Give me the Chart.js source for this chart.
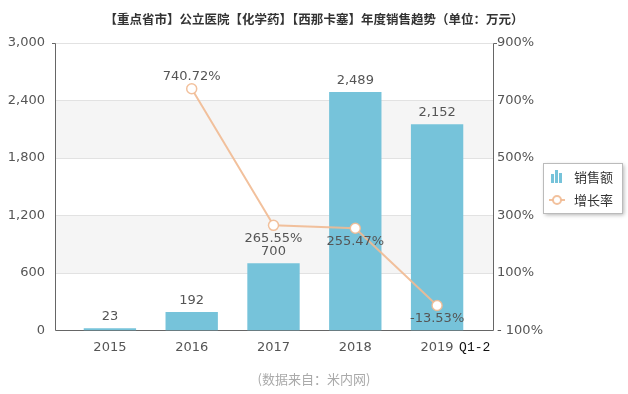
<!DOCTYPE html>
<html>
<head>
<meta charset="utf-8">
<script src="https://cdn.jsdelivr.net/npm/chart.js@4.4.1/dist/chart.umd.min.js"></script>
<style>
html, body { margin: 0; padding: 0; background: #fff; }
#wrap { width: 628px; height: 394px; }
</style>
</head>
<body>
<div id="wrap"><canvas id="salesChart"></canvas></div>
<script>
const categories = ['2015', '2016', '2017', '2018', '2019 Q1-2'];
const salesValues = [23, 192, 700, 2489, 2152];
const growthRates = [null, 740.72, 265.55, 255.47, -13.53];
const salesTicks = [0, 600, 1200, 1800, 2400, 3000];
const growthTicks = [-100, 100, 300, 500, 700, 900];

const barColor = '#76c3da';
const lineColor = 'rgba(241, 186, 146, 0.9)';
const numFont = '13px "DejaVu Sans", Verdana, sans-serif';
const cjkFont = '"Noto Sans CJK SC", sans-serif';

function fmtNum(v) {
    return v.toLocaleString('en-US');
}
function fmtPct(v) {
    return v < 0 ? '- ' + Math.abs(v) + '%' : v + '%';
}

// plot frame, alternating bands and grid lines (frame is a bit wider than the bar area)
const framePlugin = {
    id: 'frame',
    beforeDatasetsDraw(chart) {
        const { ctx, chartArea: a, scales: { y } } = chart;
        const left = a.left - 14, right = a.right + 15;
        ctx.save();
        for (let i = 0; i < salesTicks.length - 1; i++) {
            if (i % 2 === 1) {
                const top = y.getPixelForValue(salesTicks[i + 1]);
                const bottom = y.getPixelForValue(salesTicks[i]);
                ctx.fillStyle = '#f5f5f5';
                ctx.fillRect(left, top, right - left, bottom - top);
            }
        }
        ctx.strokeStyle = '#e2e2e2';
        ctx.lineWidth = 1;
        salesTicks.slice(1).forEach(t => {
            const py = Math.round(y.getPixelForValue(t)) + 0.5;
            ctx.beginPath();
            ctx.moveTo(left, py);
            ctx.lineTo(right, py);
            ctx.stroke();
        });
        ctx.strokeStyle = '#666';
        const top = Math.round(a.top) + 0.5, bottom = Math.round(a.bottom) + 0.5;
        ctx.beginPath();
        ctx.moveTo(left + 0.5, top);
        ctx.lineTo(left + 0.5, bottom);
        ctx.lineTo(right + 0.5, bottom);
        ctx.lineTo(right + 0.5, top);
        ctx.moveTo(left - 3, top);
        ctx.lineTo(left + 0.5, top);
        ctx.moveTo(right + 0.5, top);
        ctx.lineTo(right + 4, top);
        ctx.stroke();
        ctx.restore();
    }
};

// value labels for bars and growth points, plus the "Q1-2" suffix on the last category
const labelPlugin = {
    id: 'valueLabels',
    afterDatasetsDraw(chart) {
        const { ctx } = chart;
        ctx.save();
        ctx.font = numFont;
        ctx.fillStyle = '#555';
        ctx.textAlign = 'center';

        const barMeta = chart.getDatasetMeta(0);
        ctx.textBaseline = 'bottom';
        barMeta.data.forEach((bar, i) => {
            ctx.fillText(fmtNum(salesValues[i]), bar.x, bar.y - 5);
        });

        const lineMeta = chart.getDatasetMeta(1);
        lineMeta.data.forEach((pt, i) => {
            const v = growthRates[i];
            if (v === null) return;
            const txt = v.toFixed(2) + '%';
            if (i === 1) {
                ctx.textBaseline = 'bottom';
                ctx.fillText(txt, pt.x, pt.y - 6);
            } else {
                ctx.textBaseline = 'top';
                ctx.fillText(txt, pt.x, pt.y + 7);
            }
        });

        const x = chart.scales.x;
        const last = categories.length - 1;
        const suffix = categories[last].split(' ')[1];
        if (suffix) {
            ctx.font = '13px "Liberation Mono", monospace';
            ctx.fillStyle = '#111';
            ctx.textAlign = 'left';
            ctx.textBaseline = 'middle';
            ctx.fillText(suffix, x.getPixelForValue(last) + 22, chart.chartArea.bottom + 17);
        }
        ctx.restore();
    }
};

// boxed legend on the right
const legendPlugin = {
    id: 'boxLegend',
    afterDraw(chart) {
        const { ctx } = chart;
        const bx = chart.width - 85, by = 163, bw = 79, bh = 50;
        ctx.save();
        ctx.shadowColor = 'rgba(0,0,0,0.3)';
        ctx.shadowBlur = 4;
        ctx.shadowOffsetX = 2;
        ctx.shadowOffsetY = 2;
        ctx.fillStyle = '#fff';
        ctx.fillRect(bx, by, bw, bh);
        ctx.shadowColor = 'transparent';
        ctx.strokeStyle = '#bbb';
        ctx.lineWidth = 1;
        ctx.strokeRect(bx + 0.5, by + 0.5, bw, bh);

        // bar icon
        ctx.fillStyle = barColor;
        ctx.fillRect(bx + 8, by + 11, 3, 9);
        ctx.fillRect(bx + 12, by + 7, 3, 13);
        ctx.fillRect(bx + 16, by + 10, 3, 10);
        // line icon
        const ly = by + 37;
        ctx.strokeStyle = lineColor;
        ctx.lineWidth = 2;
        ctx.beginPath();
        ctx.moveTo(bx + 6, ly);
        ctx.lineTo(bx + 22, ly);
        ctx.stroke();
        ctx.beginPath();
        ctx.arc(bx + 14, ly, 4, 0, Math.PI * 2);
        ctx.fillStyle = '#fff';
        ctx.fill();
        ctx.stroke();

        ctx.font = '13px ' + cjkFont;
        ctx.fillStyle = '#333';
        ctx.textAlign = 'left';
        ctx.textBaseline = 'middle';
        ctx.fillText(chart.data.datasets[0].label, bx + 31, by + 14);
        ctx.fillText(chart.data.datasets[1].label, bx + 31, ly);
        ctx.restore();
    }
};

const ctx = document.getElementById('salesChart').getContext('2d');
const salesChart = new Chart(ctx, {
    type: 'bar',
    data: {
        labels: categories,
        datasets: [
            {
                type: 'bar',
                label: '销售额',
                data: salesValues,
                backgroundColor: barColor,
                categoryPercentage: 1,
                barPercentage: 0.64,
                yAxisID: 'y',
                order: 1
            },
            {
                type: 'line',
                label: '增长率',
                data: growthRates,
                borderColor: lineColor,
                borderWidth: 2,
                pointRadius: 5,
                pointBorderWidth: 1.5,
                pointBackgroundColor: '#fff',
                pointBorderColor: lineColor,
                yAxisID: 'y1',
                order: 0,
                spanGaps: false
            }
        ]
    },
    options: {
        responsive: true,
        maintainAspectRatio: false,
        animation: false,
        layout: { padding: 0 },
        plugins: {
            legend: { display: false },
            tooltip: { enabled: false },
            title: {
                display: true,
                text: '【重点省市】公立医院【化学药】【西那卡塞】年度销售趋势（单位：万元）',
                color: '#333',
                font: { family: cjkFont, size: 12.5, weight: 'bold' },
                padding: { top: 12, bottom: 16 }
            },
            subtitle: {
                display: true,
                position: 'bottom',
                text: '(数据来自：米内网)',
                color: '#aaa',
                font: { family: cjkFont, size: 13 },
                padding: { top: 11, bottom: 7 }
            }
        },
        scales: {
            x: {
                grid: { display: false, drawTicks: false },
                border: { display: false },
                ticks: {
                    color: '#555',
                    font: { family: '"DejaVu Sans", Verdana, sans-serif', size: 13 },
                    padding: 9,
                    maxRotation: 0,
                    callback: function (value) {
                        return this.getLabelForValue(value).split(' ')[0];
                    }
                },
                afterFit(scale) { scale.height = 30; }
            },
            y: {
                position: 'left',
                min: 0,
                max: 3000,
                grid: { display: false, drawTicks: false },
                border: { display: false },
                afterBuildTicks(scale) { scale.ticks = salesTicks.map(v => ({ value: v })); },
                ticks: {
                    color: '#555',
                    font: { family: '"DejaVu Sans", Verdana, sans-serif', size: 13 },
                    padding: 24,
                    callback: v => fmtNum(v)
                },
                afterFit(scale) { scale.width = 69; }
            },
            y1: {
                position: 'right',
                min: -100,
                max: 900,
                grid: { display: false, drawTicks: false },
                border: { display: false },
                afterBuildTicks(scale) { scale.ticks = growthTicks.map(v => ({ value: v })); },
                ticks: {
                    color: '#555',
                    font: { family: '"DejaVu Sans", Verdana, sans-serif', size: 13 },
                    padding: 19,
                    callback: v => fmtPct(v)
                },
                afterFit(scale) { scale.width = 150; }
            }
        }
    },
    plugins: [framePlugin, labelPlugin, legendPlugin]
});
</script>
</body>
</html>
